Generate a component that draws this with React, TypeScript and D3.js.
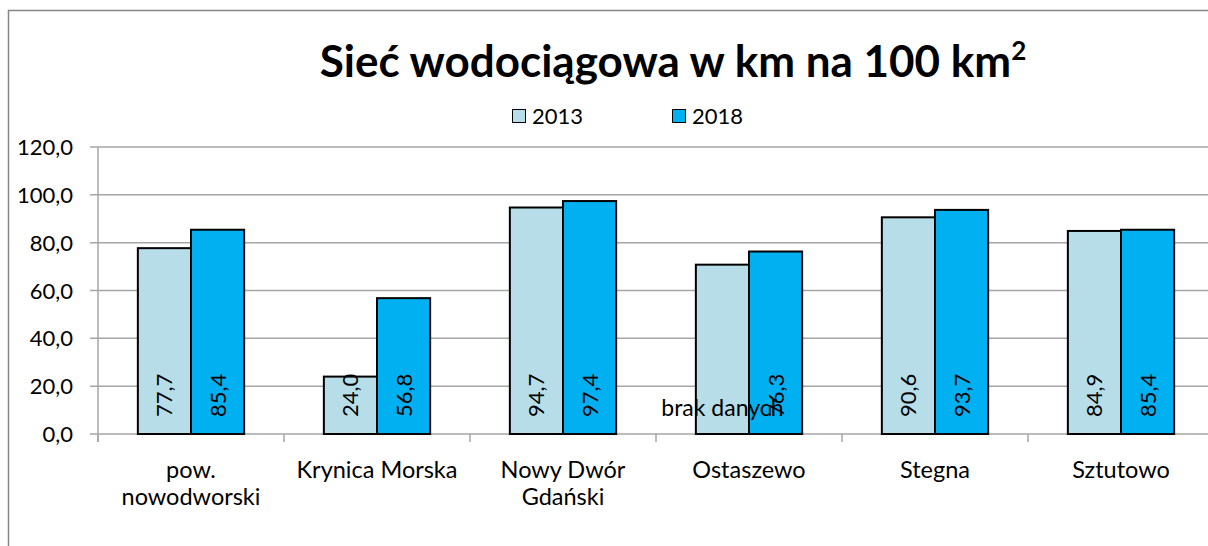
import React from "react";
import * as d3 from "d3";

const categories = [
  ["pow.", "nowodworski"],
  ["Krynica Morska"],
  ["Nowy Dwór", "Gdański"],
  ["Ostaszewo"],
  ["Stegna"],
  ["Sztutowo"],
];
const seriesNames = ["2013", "2018"];
const values2013 = [77.7, 24.0, 94.7, 70.8, 90.6, 84.9];
const values2018 = [85.4, 56.8, 97.4, 76.3, 93.7, 85.4];
// Ostaszewo 2013 carries a "brak danych" note instead of a number
const labels2013 = ["77,7", "24,0", "94,7", null, "90,6", "84,9"];
const labels2018 = ["85,4", "56,8", "97,4", "76,3", "93,7", "85,4"];
const noDataText = "brak danych";
const yTicks = [0, 20, 40, 60, 80, 100, 120];
const colors = ["#B7DEE8", "#00B0F0"];

const W = 1208;
const H = 546;
const FONT = "Lato, 'Open Sans', sans-serif";

export default function App() {
  const x0 = 98;
  const bandW = 186;
  const x = d3
    .scaleBand<number>()
    .domain(d3.range(categories.length))
    .range([x0, x0 + bandW * categories.length])
    .paddingInner(0)
    .paddingOuter(0);
  const y = d3.scaleLinear().domain([0, 120]).range([434, 147]);
  const barW = x.bandwidth() / 3.5;
  const gapLeft = (x.bandwidth() - 2 * barW) / 2;

  const series = [values2013, values2018];
  const seriesLabels = [labels2013, labels2018];
  const fmt = (v: number) => d3.format(".1f")(v).replace(".", ",");

  return (
    <svg
      width={W}
      height={H}
      style={{ position: "absolute", left: 0, top: 0, background: "#fff", overflow: "hidden" }}
      fontFamily={FONT}
    >
      {/* chart frame (runs past the right and bottom edges) */}
      <path d="M8.5,600 V10.5 H1300" fill="none" stroke="#868686" strokeWidth={1.5} />

      {/* title */}
      <text x={673} y={77} textAnchor="middle" fontSize={44} fontWeight={700} fill="#000">
        Sieć wodociągowa w km na 100 km
        <tspan fontSize={26} dy={-17}>2</tspan>
      </text>

      {/* legend */}
      {seriesNames.map((name, i) => {
        const lx = 512 + i * 160;
        return (
          <g key={name}>
            <rect x={lx + 0.5} y={109.5} width={13} height={13} fill={colors[i]} stroke="#000" strokeWidth={1} />
            <text x={lx + 20} y={124} fontSize={22} fill="#000">{name}</text>
          </g>
        );
      })}

      {/* gridlines and y ticks */}
      {yTicks.map((t) => (
        <g key={t}>
          <line x1={90} x2={W} y1={y(t)} y2={y(t)} stroke="#A6A6A6" strokeWidth={1.5} />
          <text x={73} y={y(t) + 8} textAnchor="end" fontSize={22} fill="#000">
            {fmt(t)}
          </text>
        </g>
      ))}

      {/* y axis */}
      <line x1={x0} x2={x0} y1={y(120)} y2={442} stroke="#A6A6A6" strokeWidth={1.5} />
      {/* category ticks */}
      {d3.range(categories.length + 1).map((i) => (
        <line
          key={i}
          x1={x0 + i * bandW}
          x2={x0 + i * bandW}
          y1={y(0)}
          y2={442}
          stroke="#A6A6A6"
          strokeWidth={1.5}
        />
      ))}

      {/* bars */}
      {categories.map((_, ci) =>
        series.map((vals, si) => {
          const bx = (x(ci) as number) + gapLeft + si * barW;
          return (
            <rect
              key={`${ci}-${si}`}
              x={bx}
              y={y(vals[ci])}
              width={barW}
              height={y(0) - y(vals[ci])}
              fill={colors[si]}
              stroke="#000"
              strokeWidth={2}
            />
          );
        })
      )}

      {/* value labels */}
      {categories.map((_, ci) =>
        series.map((vals, si) => {
          const cx = (x(ci) as number) + gapLeft + si * barW + barW / 2;
          const lab = seriesLabels[si][ci];
          if (lab === null) {
            return (
              <text key={`l${ci}-${si}`} x={cx} y={416} textAnchor="middle" fontSize={23} fill="#000">
                {noDataText}
              </text>
            );
          }
          return (
            <text
              key={`l${ci}-${si}`}
              transform={`translate(${cx + 8},${y(0) - 17}) rotate(-90)`}
              textAnchor="start"
              fontSize={22}
              fill="#000"
            >
              {lab}
            </text>
          );
        })
      )}

      {/* category labels */}
      {categories.map((lines, ci) => {
        const cx = (x(ci) as number) + x.bandwidth() / 2;
        return (
          <text key={`c${ci}`} textAnchor="middle" fontSize={23.5} fill="#000">
            {lines.map((ln, li) => (
              <tspan key={li} x={cx} y={478 + li * 27}>
                {ln}
              </tspan>
            ))}
          </text>
        );
      })}
    </svg>
  );
}
